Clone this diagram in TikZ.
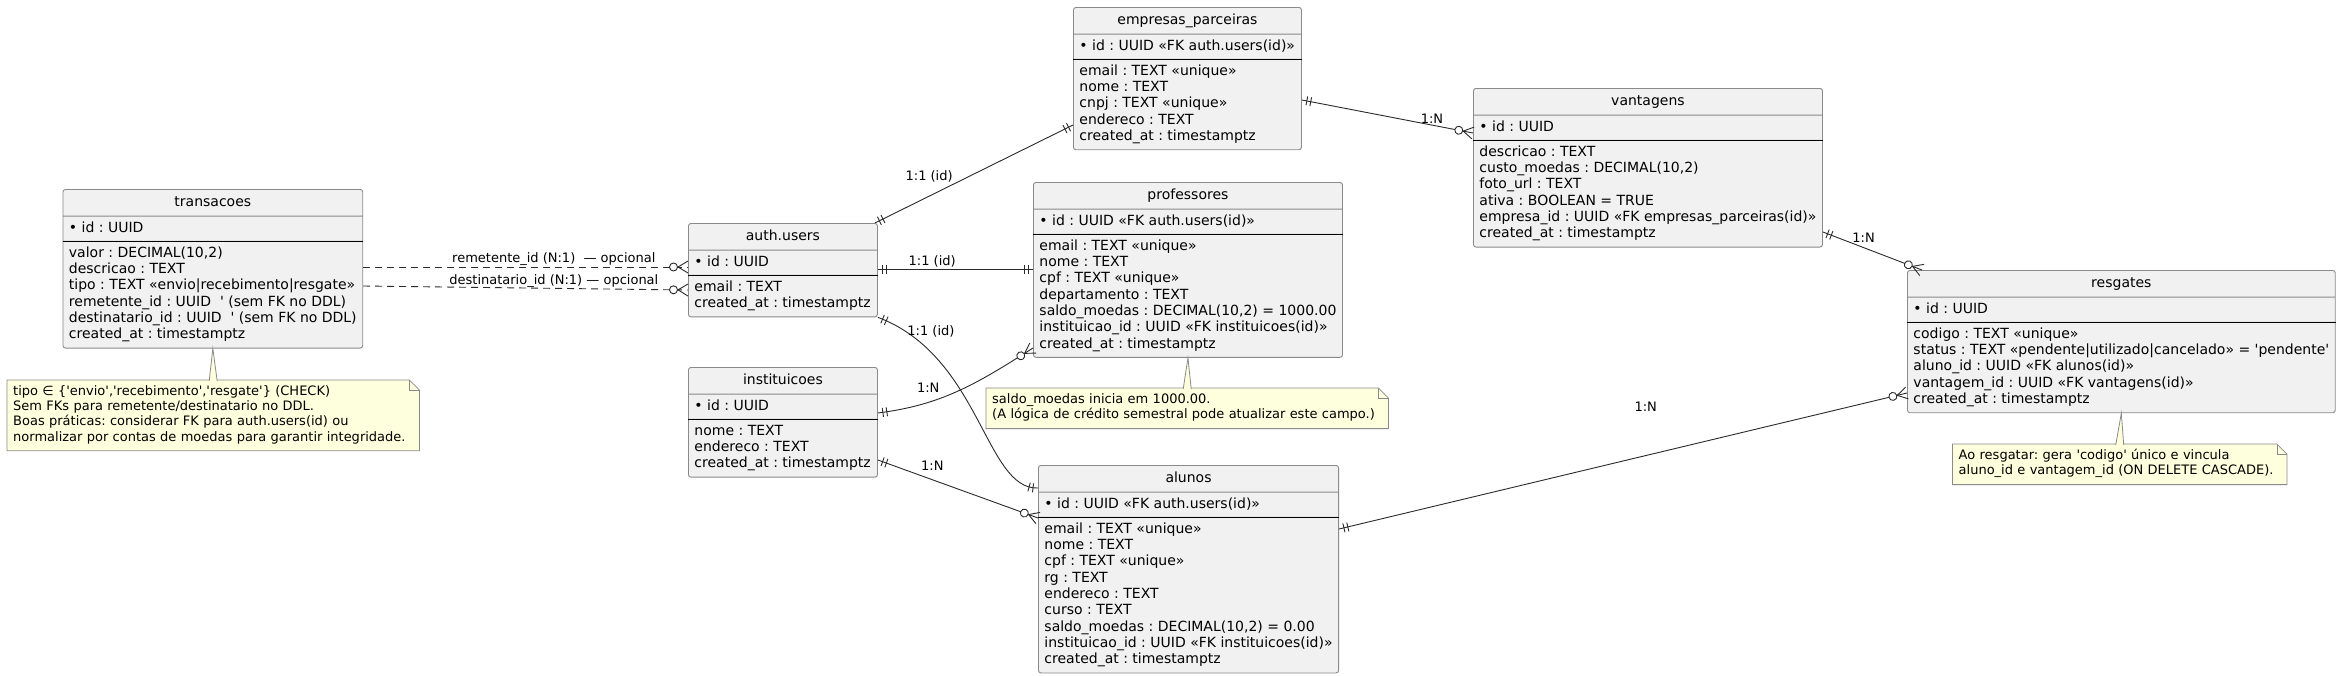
\documentclass[tikz,border=0pt]{standalone}
\usepackage{fontspec}
\setmainfont{DejaVu Sans}
\usetikzlibrary{calc,shapes.multipart,decorations.markings}
\frenchspacing

\definecolor{entfill}{HTML}{F1F1F1}
\definecolor{entline}{HTML}{8A8A8A}
\definecolor{relline}{HTML}{2A2A2A}
\definecolor{notefill}{HTML}{FEFFDD}

\newcommand{\entfont}{\fontsize{14}{16.3}\selectfont}
\newcommand{\lblfont}{\fontsize{13}{15.1}\selectfont}
\newcommand{\sq}{\textquotesingle}
\newcommand{\hstrut}{\rule[-5.2pt]{0pt}{17.8pt}}

\tikzset{
  entity/.style={rectangle split, rectangle split parts=3,
    rectangle split part align={center,left,left},
    draw=entline, fill=entfill, line width=0.9pt, rounded corners=2.5pt,
    inner xsep=6pt, inner ysep=4pt, align=left, font=\entfont, anchor=north west},
  pksep/.style={black, line width=1.1pt},
  notebox/.style={fill=notefill, font=\lblfont, align=left, anchor=north west,
    inner xsep=6pt, inner ysep=5pt},
  notebdr/.style={draw=entline, line width=0.8pt},
  rel/.style={draw=relline, line width=0.9pt},
  optrel/.style={rel, dash pattern=on 7pt off 5pt},
  lbl/.style={font=\lblfont, inner sep=1pt},
  onestart/.style={postaction={decorate,decoration={markings,
    mark=at position 5pt with {\draw[solid] (0pt,-4.5pt) -- (0pt,4.5pt);},
    mark=at position 9pt with {\draw[solid] (0pt,-4.5pt) -- (0pt,4.5pt);}}}},
  oneend/.style={postaction={decorate,decoration={markings,
    mark=at position -5pt with {\draw[solid] (0pt,-4.5pt) -- (0pt,4.5pt);},
    mark=at position -9pt with {\draw[solid] (0pt,-4.5pt) -- (0pt,4.5pt);}}}},
  manyend/.style={postaction={decorate,decoration={markings,
    mark=at position -10pt with {\draw[solid] (0pt,0pt) -- (10pt,6pt) (0pt,0pt) -- (10pt,-6pt);
      \draw[solid,fill=white] (-4.5pt,0pt) circle (4pt);}}}}
}

\newcommand{\dogear}[1]{%
  \fill[white] (#1.north east) -- ++(-10,0) -- ++(10,10) -- cycle;
  \draw[notebdr] (#1.north west) -- ($(#1.north east)+(-10,0)$) -- ($(#1.north east)+(0,10)$)
    -- (#1.south east) -- (#1.south west) -- cycle;
  \draw[notebdr] ($(#1.north east)+(-10,0)$) |- ($(#1.north east)+(0,10)$);}

\begin{document}
\begin{tikzpicture}[x=1pt,y=-1pt]
\path[use as bounding box, fill=white] (0,0) rectangle (2340,675);

\node[entity, minimum width=299pt] (transacoes) at (62.5,189)
  {\hstrut transacoes
   \nodepart{two}\strut• id : UUID
   \nodepart{three}\strut valor : DECIMAL(10,2)\\
   descricao : TEXT\\
   tipo : TEXT «envio|recebimento|resgate»\\
   remetente\_id : UUID\ \ \sq\ (sem FK no DDL)\\
   destinatario\_id : UUID\ \ \sq\ (sem FK no DDL)\\
   created\_at : timestamptz\strut};
\draw[pksep] (transacoes.two split west) -- (transacoes.two split east);

\node[entity, minimum width=189pt] (authusers) at (688,223)
  {\hstrut auth.users
   \nodepart{two}\strut• id : UUID
   \nodepart{three}\strut email : TEXT\\
   created\_at : timestamptz\strut};
\draw[pksep] (authusers.two split west) -- (authusers.two split east);

\node[entity, minimum width=189pt] (instituicoes) at (688,367)
  {\hstrut instituicoes
   \nodepart{two}\strut• id : UUID
   \nodepart{three}\strut nome : TEXT\\
   endereco : TEXT\\
   created\_at : timestamptz\strut};
\draw[pksep] (instituicoes.two split west) -- (instituicoes.two split east);

\node[entity, minimum width=228pt] (empresas) at (1073,7)
  {\hstrut empresas\_parceiras
   \nodepart{two}\strut• id : UUID «FK auth.users(id)»
   \nodepart{three}\strut email : TEXT «unique»\\
   nome : TEXT\\
   cnpj : TEXT «unique»\\
   endereco : TEXT\\
   created\_at : timestamptz\strut};
\draw[pksep] (empresas.two split west) -- (empresas.two split east);

\node[entity, minimum width=308pt] (professores) at (1033,182)
  {\hstrut professores
   \nodepart{two}\strut• id : UUID «FK auth.users(id)»
   \nodepart{three}\strut email : TEXT «unique»\\
   nome : TEXT\\
   cpf : TEXT «unique»\\
   departamento : TEXT\\
   saldo\_moedas : DECIMAL(10,2) = 1000.00\\
   instituicao\_id : UUID «FK instituicoes(id)»\\
   created\_at : timestamptz\strut};
\draw[pksep] (professores.two split west) -- (professores.two split east);

\node[entity, minimum width=349pt] (vantagens) at (1473,88)
  {\hstrut vantagens
   \nodepart{two}\strut• id : UUID
   \nodepart{three}\strut descricao : TEXT\\
   custo\_moedas : DECIMAL(10,2)\\
   foto\_url : TEXT\\
   ativa : BOOLEAN = TRUE\\
   empresa\_id : UUID «FK empresas\_parceiras(id)»\\
   created\_at : timestamptz\strut};
\draw[pksep] (vantagens.two split west) -- (vantagens.two split east);

\node[entity, minimum width=427pt] (resgates) at (1907,270)
  {\hstrut resgates
   \nodepart{two}\strut• id : UUID
   \nodepart{three}\strut codigo : TEXT «unique»\\
   status : TEXT «pendente|utilizado|cancelado» = \sq pendente\sq\\
   aluno\_id : UUID «FK alunos(id)»\\
   vantagem\_id : UUID «FK vantagens(id)»\\
   created\_at : timestamptz\strut};
\draw[pksep] (resgates.two split west) -- (resgates.two split east);

\node[entity, minimum width=299pt] (alunos) at (1038,465)
  {\hstrut alunos
   \nodepart{two}\strut• id : UUID «FK auth.users(id)»
   \nodepart{three}\strut email : TEXT «unique»\\
   nome : TEXT\\
   cpf : TEXT «unique»\\
   rg : TEXT\\
   endereco : TEXT\\
   curso : TEXT\\
   saldo\_moedas : DECIMAL(10,2) = 0.00\\
   instituicao\_id : UUID «FK instituicoes(id)»\\
   created\_at : timestamptz\strut};
\draw[pksep] (alunos.two split west) -- (alunos.two split east);

\draw[optrel, manyend] ($(transacoes.north east)+(0,78)$) -- ($(authusers.north west)+(0,44)$)
  node[lbl, pos=0.587, above] {remetente\_id (N:1)\ \ — opcional};
\draw[optrel, manyend] ($(transacoes.north east)+(0,97)$) -- ($(authusers.north west)+(0,67)$)
  node[lbl, pos=0.587, above=-1pt] {destinatario\_id (N:1) — opcional};

\draw[rel, onestart, oneend] ($(authusers.north east)+(-3,0)$) -- ($(empresas.north west)+(0,118)$)
  node[lbl, pos=0.4, above left] {1:1 (id)};
\draw[rel, onestart, oneend] ($(authusers.north east)+(0,46)$) -- ($(professores.north west)+(0,87)$)
  node[lbl, pos=0.35, above] {1:1 (id)};
\draw[rel, onestart, oneend] (authusers.south east) .. controls +(103,39) and +(-53,2) .. ($(alunos.north west)+(0,23)$)
  node[lbl, pos=0.1, right] {1:1 (id)};
\draw[rel, onestart, manyend] ($(instituicoes.north east)+(0,46)$) .. controls +(63,-8) and +(-58,37) .. ($(professores.north west)+(0,166)$)
  node[lbl, pos=0.3, above=8pt] {1:N};
\draw[rel, onestart, manyend] ($(instituicoes.north east)+(0,93)$) -- ($(alunos.north west)+(0,53)$)
  node[lbl, pos=0.34, above=8pt] {1:N};
\draw[rel, onestart, manyend] ($(empresas.north east)+(0,93)$) -- ($(vantagens.north west)+(0,45)$)
  node[lbl, pos=0.76, above] {1:N};
\draw[rel, onestart, manyend] ($(vantagens.north east)+(0,144)$) -- ($(resgates.north west)+(15,0)$)
  node[lbl, pos=0.41, above=4pt] {1:N};
\draw[rel, onestart, manyend] ($(alunos.north east)+(0,64)$) -- ($(resgates.north west)+(0,123)$)
  node[lbl, pos=0.54, above=43pt] {1:N};

\node[notebox, text width=400pt] (notetransacoes) at (7,380)
  {\strut tipo ∈ \{\sq envio\sq,\sq recebimento\sq,\sq resgate\sq\} (CHECK)\\
   Sem FKs para remetente/destinatario no DDL.\\
   Boas práticas: considerar FK para auth.users(id) ou\\
   normalizar por contas de moedas para garantir integridade.\strut};
\dogear{notetransacoes}
\draw[notebdr, fill=notefill] ($(notetransacoes.north)+(-4,1)$) -- (transacoes.south) -- ($(notetransacoes.north)+(4,1)$);

\node[notebox, text width=390pt] (noteprofessores) at (986,388)
  {\strut saldo\_moedas inicia em 1000.00.\\
   (A lógica de crédito semestral pode atualizar este campo.)\strut};
\dogear{noteprofessores}
\draw[notebdr, fill=notefill] ($(noteprofessores.north)+(-4,1)$) -- (professores.south) -- ($(noteprofessores.north)+(4,1)$);

\node[notebox, text width=322pt] (noteresgates) at (1952.5,444)
  {\strut Ao resgatar: gera \sq codigo\sq{} único e vincula\\
   aluno\_id e vantagem\_id (ON DELETE CASCADE).\strut};
\dogear{noteresgates}
\draw[notebdr, fill=notefill] ($(noteresgates.north)+(-4,1)$) -- (resgates.south) -- ($(noteresgates.north)+(4,1)$);
\end{tikzpicture}
\end{document}
